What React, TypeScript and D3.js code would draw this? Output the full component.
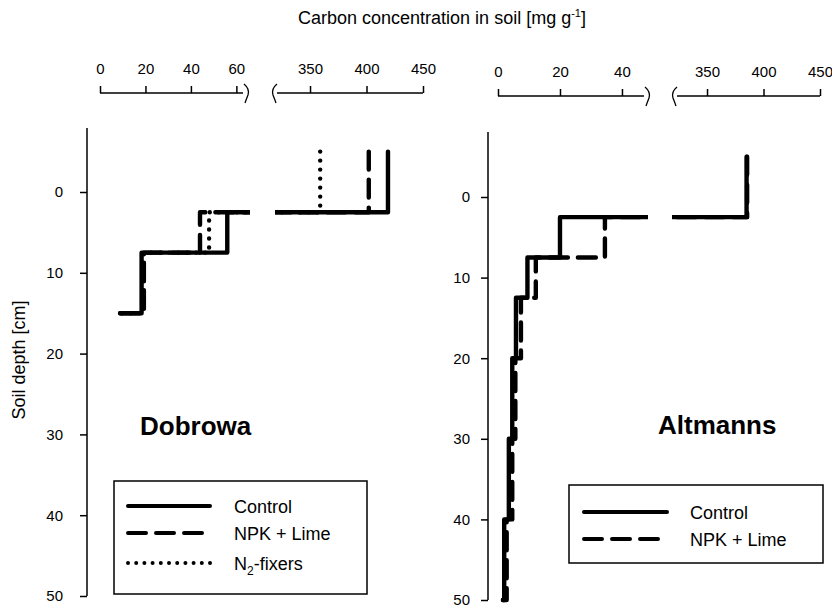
import React, { useRef, useEffect } from 'react'
import * as d3 from 'd3'

// layer boundaries in cm (organic layer sits above 0)
const dobrowaDepths = [-5, 2.5, 7.5, 15]
const dobrowaControl = [419, 56, 18.3]
const dobrowaNpk = [402, 44, 19.3]
const dobrowaFixers = [359, 48, 19.3]
const dobrowaEnd = 8.8

const altmannsDepths = [-5, 2.5, 7.5, 12.5, 20, 30, 40, 50]
const altmannsControl = [385, 20, 9.5, 5.8, 4.6, 3.5, 2.0]
const altmannsNpk = [385.5, 34.5, 12.2, 7.4, 5.6, 4.6, 2.8]
const altmannsEnd = 1.6

const dobrowaLowTicks = [0, 20, 40, 60]
const altmannsLowTicks = [0, 20, 40]
const highTicks = [350, 400, 450]
const depthTicks = [0, 10, 20, 30, 40, 50]

const FONT = "'Liberation Sans', Arial, Helvetica, sans-serif"

const dashes: Record<string, string | null> = {
  control: null,
  npk: '18 10',
  fixers: '0 9',
}
const legendDashes: Record<string, string | null> = {
  control: null,
  npk: '18 10',
  fixers: '0 8.2',
}

// step profile: vertical through each layer, horizontal to the next value
function stepPoints(depths: number[], values: number[], end: number) {
  const pts: [number, number][] = []
  values.forEach((v, i) => {
    pts.push([v, depths[i]])
    pts.push([v, depths[i + 1]])
  })
  pts.push([end, depths[depths.length - 1]])
  return pts
}

const panels = [
  {
    id: 'dob',
    name: 'Dobrowa',
    namePos: [140, 435],
    axisX: 87,
    axisTop: 128,
    depthRange: [192, 596],
    tickPad: 17,
    topAxisY: 93,
    low: { domain: [0, 66], range: [100, 250], lineEnd: 243, ticks: dobrowaLowTicks },
    high: { domain: [319, 450], range: [275, 423], lineStart: 277, ticks: highTicks },
    series: [
      { key: 'fixers', pts: stepPoints(dobrowaDepths, dobrowaFixers, dobrowaEnd) },
      { key: 'npk', pts: stepPoints(dobrowaDepths, dobrowaNpk, dobrowaEnd) },
      { key: 'control', pts: stepPoints(dobrowaDepths, dobrowaControl, dobrowaEnd) },
    ],
    legend: { x: 114, y: 481, w: 253, h: 113, rows: [506, 533, 563], lx0: 126, lx1: 212, tx: 234, keys: ['control', 'npk', 'fixers'] },
  },
  {
    id: 'alt',
    name: 'Altmanns',
    namePos: [658, 434],
    axisX: 488,
    axisTop: 132,
    depthRange: [197, 600],
    tickPad: 11,
    topAxisY: 96,
    low: { domain: [0, 48.4], range: [498, 648], lineEnd: 644, ticks: altmannsLowTicks },
    high: { domain: [319, 450], range: [672, 820], lineStart: 677, ticks: highTicks },
    series: [
      { key: 'npk', pts: stepPoints(altmannsDepths, altmannsNpk, altmannsEnd) },
      { key: 'control', pts: stepPoints(altmannsDepths, altmannsControl, altmannsEnd) },
    ],
    legend: { x: 569, y: 485, w: 254, h: 78, rows: [512, 539], lx0: 582, lx1: 669, tx: 690, keys: ['control', 'npk'] },
  },
]

const legendLabels: Record<string, string> = { control: 'Control', npk: 'NPK + Lime', fixers: 'N' }

export default function App() {
  const svgRef = useRef<SVGSVGElement>(null)

  useEffect(() => {
    const svg = d3.select(svgRef.current)
    svg.selectAll('*').remove()

    // title
    const title = svg.append('text')
      .attr('x', 442).attr('y', 24)
      .attr('text-anchor', 'middle')
      .attr('font-size', 18)
      .text('Carbon concentration in soil [mg g')
    title.append('tspan').attr('dy', -7).attr('font-size', 11).text('-1')
    title.append('tspan').attr('dy', 7).text(']')

    // y label
    svg.append('text')
      .attr('transform', 'translate(25,360) rotate(-90)')
      .attr('text-anchor', 'middle')
      .attr('font-size', 18)
      .text('Soil depth [cm]')

    panels.forEach(p => {
      const y = d3.scaleLinear().domain([0, 50]).range(p.depthRange)
      const xLow = d3.scaleLinear().domain(p.low.domain).range(p.low.range)
      const xHigh = d3.scaleLinear().domain(p.high.domain).range(p.high.range)
      const x = (v: number) => (v <= p.low.domain[1] ? xLow(v) : xHigh(v))

      // depth axis
      const ya = svg.append('g')
        .attr('transform', `translate(${p.axisX},0)`)
        .call(d3.axisLeft(y).tickValues(depthTicks).tickSize(7).tickSizeOuter(0).tickPadding(p.tickPad))
      ya.select('.domain').remove()
      ya.selectAll('text').attr('font-size', 15).attr('font-family', FONT)
      ya.selectAll('line').attr('stroke-width', 1.5)
      ya.append('line')
        .attr('y1', p.axisTop).attr('y2', y(50))
        .attr('stroke', '#000').attr('stroke-width', 1.5)

      // broken concentration axis on top
      const drawTop = (scale: d3.ScaleLinear<number, number>, ticks: number[], a: number, b: number) => {
        const g = svg.append('g')
          .attr('transform', `translate(0,${p.topAxisY})`)
          .call(d3.axisTop(scale).tickValues(ticks).tickSize(7).tickSizeOuter(0).tickPadding(12))
        g.select('.domain').remove()
        g.selectAll('text').attr('font-size', 15).attr('font-family', FONT)
        g.selectAll('line').attr('stroke-width', 1.5)
        g.append('line').attr('x1', a).attr('x2', b).attr('stroke', '#000').attr('stroke-width', 1.5)
      }
      drawTop(xLow, p.low.ticks, xLow(0), p.low.lineEnd)
      drawTop(xHigh, p.high.ticks, p.high.lineStart, xHigh(450))

      // break marks
      const ty = p.topAxisY
      const bx1 = p.low.lineEnd + 3
      const bx2 = p.high.lineStart - 2
      svg.append('path')
        .attr('d', `M${bx1 - 2},${ty - 9} Q${bx1 + 4},${ty - 4} ${bx1 + 2},${ty + 2} Q${bx1},${ty + 7} ${bx1 - 1},${ty + 10}`)
        .attr('fill', 'none').attr('stroke', '#000').attr('stroke-width', 1.3)
      svg.append('path')
        .attr('d', `M${bx2 + 2},${ty - 9} Q${bx2 - 4},${ty - 4} ${bx2 - 2},${ty + 2} Q${bx2},${ty + 7} ${bx2 + 1},${ty + 10}`)
        .attr('fill', 'none').attr('stroke', '#000').attr('stroke-width', 1.3)

      // clip away the break gap
      const clip = svg.append('clipPath').attr('id', `clip-${p.id}`)
      clip.append('rect').attr('x', p.axisX + 2).attr('y', 0).attr('width', p.low.range[1] - p.axisX - 2).attr('height', 608)
      clip.append('rect').attr('x', p.high.range[0]).attr('y', 0).attr('width', p.high.range[1] - p.high.range[0] + 10).attr('height', 608)

      const line = d3.line<[number, number]>().x(d => x(d[0])).y(d => y(d[1]))
      const g = svg.append('g').attr('clip-path', `url(#clip-${p.id})`)
      p.series.forEach(s => {
        const path = g.append('path')
          .attr('d', line(s.pts))
          .attr('fill', 'none')
          .attr('stroke', '#000')
          .attr('stroke-width', 4.4)
          .attr('stroke-linecap', 'round')
          .attr('stroke-linejoin', 'round')
        if (dashes[s.key]) path.attr('stroke-dasharray', dashes[s.key])
      })

      // site name
      svg.append('text')
        .attr('x', p.namePos[0]).attr('y', p.namePos[1])
        .attr('font-size', 26).attr('font-weight', 'bold')
        .text(p.name)

      // legend
      const L = p.legend
      svg.append('rect')
        .attr('x', L.x).attr('y', L.y).attr('width', L.w).attr('height', L.h)
        .attr('fill', 'none').attr('stroke', '#000').attr('stroke-width', 1.5)
      L.keys.forEach((k, i) => {
        const ry = L.rows[i]
        const ll = svg.append('line')
          .attr('x1', L.lx0 + 2).attr('x2', L.lx1 - 2)
          .attr('y1', ry).attr('y2', ry)
          .attr('stroke', '#000').attr('stroke-width', 4)
          .attr('stroke-linecap', 'round')
        if (legendDashes[k]) ll.attr('stroke-dasharray', legendDashes[k])
        const t = svg.append('text')
          .attr('x', L.tx).attr('y', ry + 7)
          .attr('font-size', 18)
          .text(legendLabels[k])
        if (k === 'fixers') {
          t.append('tspan').attr('dy', 5).attr('font-size', 12).text('2')
          t.append('tspan').attr('dy', -5).text('-fixers')
        }
      })
    })
  }, [])

  return (
    <svg
      ref={svgRef}
      width={832}
      height={608}
      fontFamily={FONT}
      style={{ position: 'absolute', left: 0, top: 0, background: '#fff' }}
    />
  )
}
